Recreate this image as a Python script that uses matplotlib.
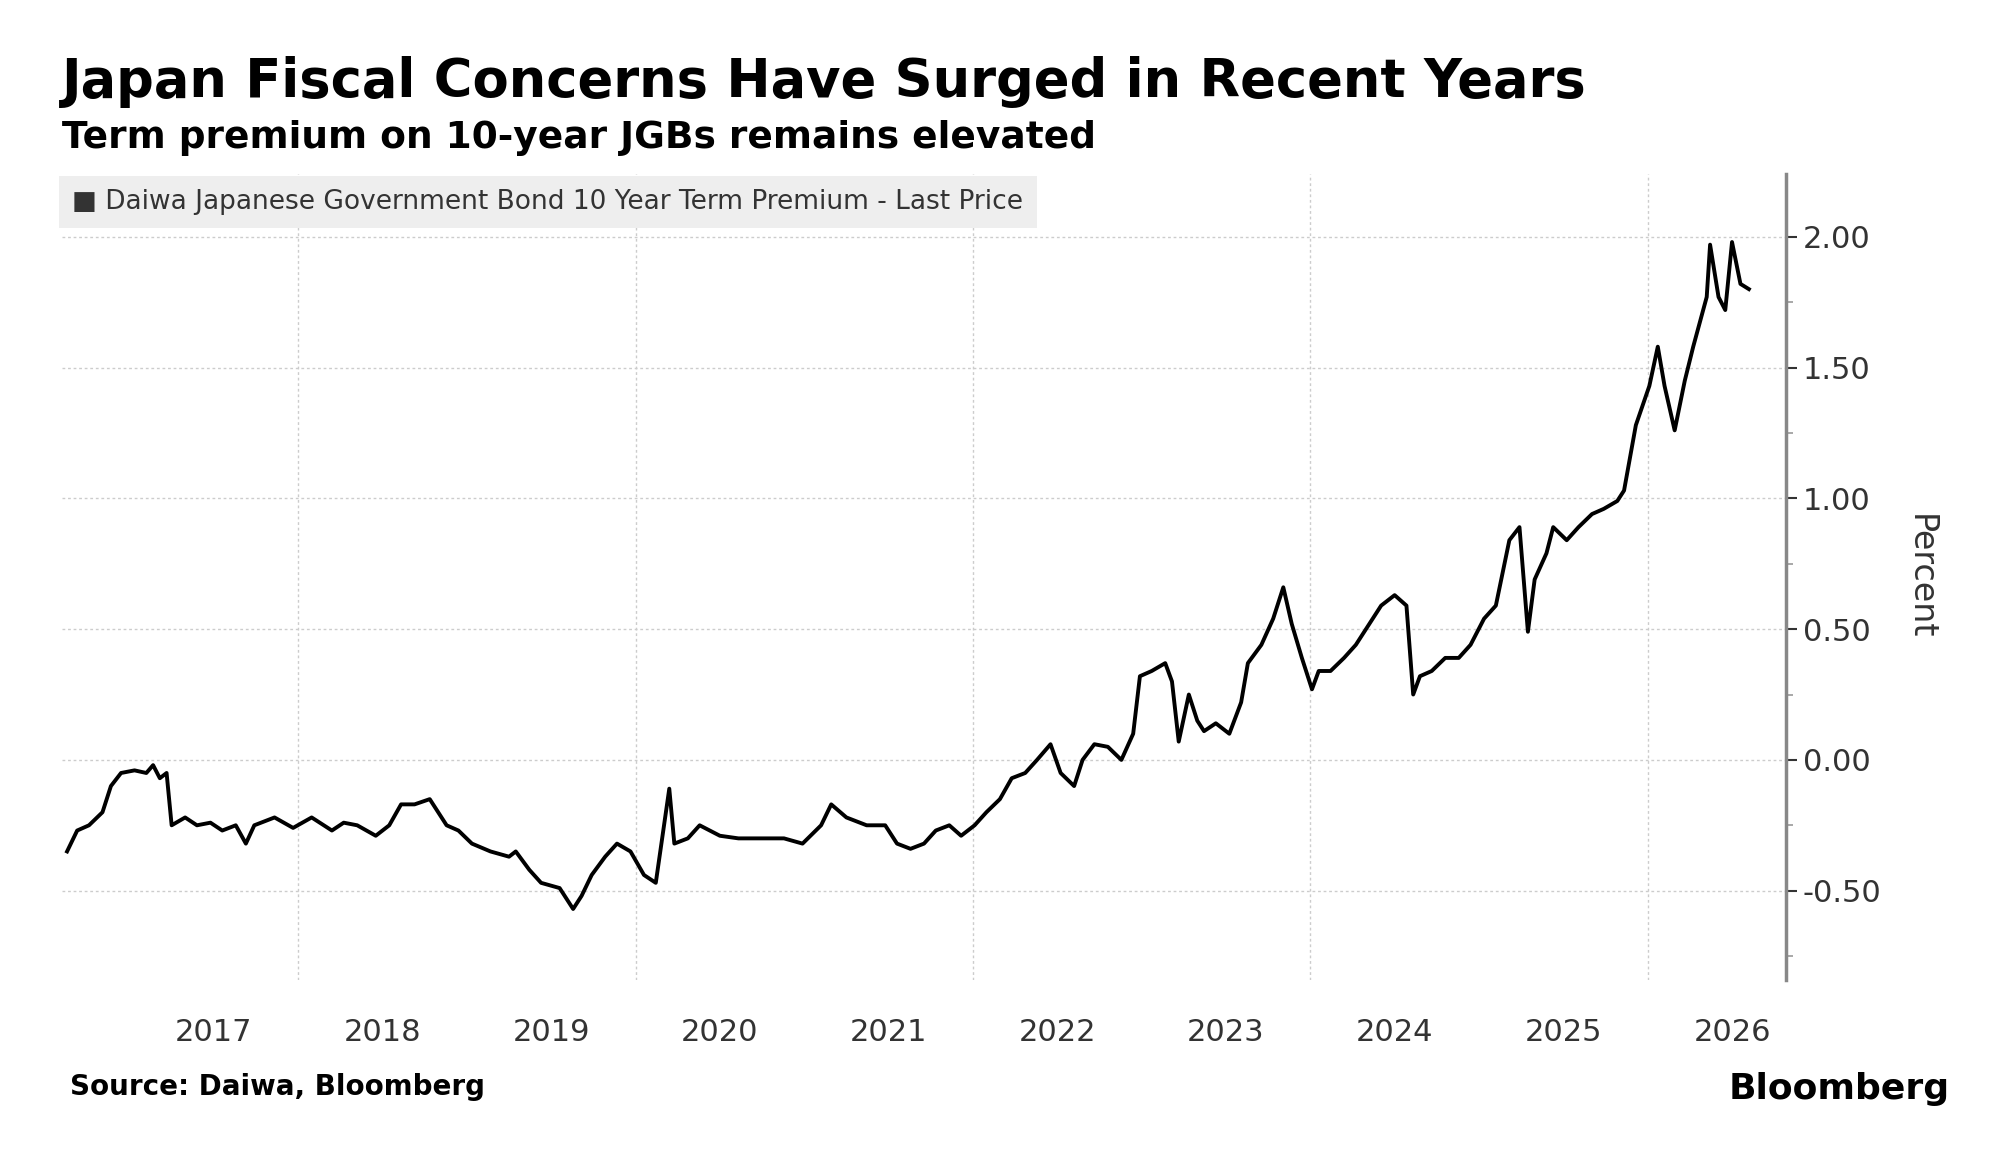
import matplotlib.pyplot as plt
from matplotlib.ticker import FixedLocator, MultipleLocator

# decimal years and term premium (percent)
years = [2016.63, 2016.69, 2016.76, 2016.84, 2016.89, 2016.95, 2017.03, 2017.10, 2017.14, 2017.18,
         2017.22, 2017.25, 2017.33, 2017.40, 2017.48, 2017.55, 2017.63, 2017.69, 2017.74, 2017.86,
         2017.97, 2018.08, 2018.20, 2018.27, 2018.35, 2018.46, 2018.54, 2018.61, 2018.69, 2018.78,
         2018.88, 2018.95, 2019.03, 2019.14, 2019.25, 2019.29, 2019.37, 2019.44, 2019.55, 2019.63,
         2019.68, 2019.74, 2019.82, 2019.89, 2019.97, 2020.05, 2020.12, 2020.20, 2020.23, 2020.31,
         2020.38, 2020.50, 2020.61, 2020.72, 2020.88, 2020.99, 2021.10, 2021.16, 2021.25, 2021.37,
         2021.48, 2021.55, 2021.63, 2021.71, 2021.78, 2021.86, 2021.93, 2022.01, 2022.08, 2022.16,
         2022.23, 2022.31, 2022.38, 2022.46, 2022.52, 2022.60, 2022.65, 2022.72, 2022.80, 2022.88,
         2022.95, 2022.99, 2023.06, 2023.14, 2023.18, 2023.22, 2023.28, 2023.33, 2023.37, 2023.44,
         2023.52, 2023.59, 2023.63, 2023.71, 2023.78, 2023.84, 2023.89, 2023.95, 2024.01, 2024.05,
         2024.12, 2024.20, 2024.27, 2024.35, 2024.42, 2024.50, 2024.57, 2024.61, 2024.65, 2024.72,
         2024.80, 2024.88, 2024.95, 2025.03, 2025.10, 2025.18, 2025.24, 2025.29, 2025.33, 2025.40,
         2025.44, 2025.52, 2025.59, 2025.67, 2025.74, 2025.82, 2025.86, 2025.93, 2026.01, 2026.06,
         2026.10, 2026.16, 2026.22, 2026.27, 2026.35, 2026.37, 2026.42, 2026.46, 2026.50, 2026.55,
         2026.60]
premium = [-0.35, -0.27, -0.25, -0.20, -0.10, -0.05, -0.04, -0.05, -0.02, -0.07,
           -0.05, -0.25, -0.22, -0.25, -0.24, -0.27, -0.25, -0.32, -0.25, -0.22,
           -0.26, -0.22, -0.27, -0.24, -0.25, -0.29, -0.25, -0.17, -0.17, -0.15,
           -0.25, -0.27, -0.32, -0.35, -0.37, -0.35, -0.42, -0.47, -0.49, -0.57,
           -0.52, -0.44, -0.37, -0.32, -0.35, -0.44, -0.47, -0.11, -0.32, -0.30,
           -0.25, -0.29, -0.30, -0.30, -0.30, -0.32, -0.25, -0.17, -0.22, -0.25,
           -0.25, -0.32, -0.34, -0.32, -0.27, -0.25, -0.29, -0.25, -0.20, -0.15,
           -0.07, -0.05, 0.00, 0.06, -0.05, -0.10, 0.00, 0.06, 0.05, 0.00,
           0.10, 0.32, 0.34, 0.37, 0.30, 0.07, 0.25, 0.15, 0.11, 0.14,
           0.10, 0.22, 0.37, 0.44, 0.54, 0.66, 0.52, 0.39, 0.27, 0.34,
           0.34, 0.39, 0.44, 0.52, 0.59, 0.63, 0.59, 0.25, 0.32, 0.34,
           0.39, 0.39, 0.44, 0.54, 0.59, 0.84, 0.89, 0.49, 0.69, 0.79,
           0.89, 0.84, 0.89, 0.94, 0.96, 0.99, 1.03, 1.28, 1.43, 1.58,
           1.43, 1.26, 1.45, 1.58, 1.77, 1.97, 1.77, 1.72, 1.98, 1.82,
           1.80]

year_labels = ['2017', '2018', '2019', '2020', '2021', '2022', '2023', '2024', '2025', '2026']
year_pos = [2017.5, 2018.5, 2019.5, 2020.5, 2021.5, 2022.5, 2023.5, 2024.5, 2025.5, 2026.5]
grid_years = [2018, 2020, 2022, 2024, 2026]

plt.rcParams['font.family'] = ['DejaVu Sans']
fig = plt.figure(figsize=(20, 11.76), dpi=100)
ax = fig.add_axes([0.031, 0.167, 0.862, 0.685])

ax.plot(years, premium, color='black', lw=2.8)
ax.set_xlim(2016.60, 2026.82)
ax.set_ylim(-0.84, 2.24)

ax.yaxis.tick_right()
ax.yaxis.set_label_position('right')
ax.set_yticks([-0.5, 0, 0.5, 1.0, 1.5, 2.0])
ax.set_yticklabels(['-0.50', '0.00', '0.50', '1.00', '1.50', '2.00'])
ax.yaxis.set_minor_locator(MultipleLocator(0.25))
ax.tick_params(axis='y', which='major', length=8, width=1.5, labelsize=22, colors='#333333', pad=4)
ax.tick_params(axis='y', which='minor', length=5, width=1.2, colors='#999999')
ax.set_ylabel('Percent', fontsize=24, rotation=270, labelpad=40, color='#333333')

ax.xaxis.set_major_locator(FixedLocator(year_pos))
ax.set_xticklabels(year_labels)
ax.tick_params(axis='x', length=0, labelsize=22, colors='#333333', pad=28)

for y in [-0.5, 0, 0.5, 1.0, 1.5, 2.0]:
    ax.axhline(y, color='#cccccc', lw=1, ls=(0, (2, 2)), zorder=0)
for g in grid_years:
    ax.axvline(g, color='#cccccc', lw=1, ls=(0, (2, 2)), zorder=0)

for s in ['top', 'left', 'bottom']:
    ax.spines[s].set_visible(False)
ax.spines['right'].set_color('#888888')
ax.spines['right'].set_linewidth(2.5)

ax.text(0.006, 0.965, '\u25a0 Daiwa Japanese Government Bond 10 Year Term Premium - Last Price',
        transform=ax.transAxes, fontsize=19, color='#333333', va='center', ha='left',
        bbox=dict(facecolor='#eeeeee', edgecolor='none', boxstyle='square,pad=0.5'))

fig.text(0.031, 0.930, 'Japan Fiscal Concerns Have Surged in Recent Years',
         fontsize=38, fontweight='bold', va='center')
fig.text(0.031, 0.883, 'Term premium on 10-year JGBs remains elevated',
         fontsize=27, fontweight='bold', va='center')
fig.text(0.035, 0.076, 'Source: Daiwa, Bloomberg', fontsize=20, fontweight='bold', va='center')
fig.text(0.975, 0.074, 'Bloomberg', fontsize=26, fontweight='bold', va='center', ha='right')

plt.savefig('out.png', dpi=100)
